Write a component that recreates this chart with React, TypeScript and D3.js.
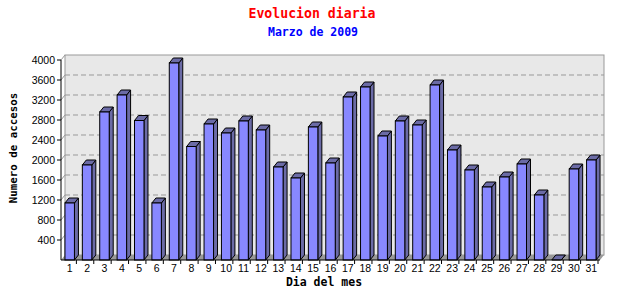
import React from "react";
import * as d3 from "d3";

const days: string[] = Array.from({ length: 31 }, (_, i) => String(i + 1));
const visits: number[] = [
  1140, 1900, 2960, 3300, 2790, 1140, 3940, 2270, 2720, 2540,
  2780, 2600, 1860, 1640, 2660, 1940, 3260, 3460, 2480, 2780,
  2700, 3500, 2200, 1800, 1460, 1660, 1920, 1300, 0, 1820, 2000,
];
const yTickValues: number[] = [400, 800, 1200, 1600, 2000, 2400, 2800, 3200, 3600, 4000];
const title = "Evolucion diaria";
const subtitle = "Marzo de 2009";
const xTitle = "Dia del mes";
const yTitle = "Numero de accesos";

const W = 640, H = 300;
const left = 61, right = 600, bottom = 260, top = 60;
const dx = 4, dy = 5;

export default function App() {
  const x = d3.scaleBand<string>().domain(days).range([left, right]).paddingInner(0.455).paddingOuter(0.2275);
  const y = d3.scaleLinear().domain([0, 4000]).range([bottom, top]);
  const bw = x.bandwidth();
  const step = x.step();
  const mono = "'DejaVu Sans Mono', monospace";
  const sans = "'Liberation Sans', Arial, sans-serif";
  const wallTop = y(4000) - dy;
  const wallRight = right + dx;
  return (
    <svg width={W} height={H} style={{ position: "absolute", left: 0, top: 0, background: "#fff" }}>
      {/* back wall */}
      <rect x={left + dx} y={wallTop} width={wallRight - left - dx} height={bottom - dy - wallTop} fill="#e8e8e8" stroke="#999" strokeWidth={1} />
      {/* grid */}
      {yTickValues.filter(v => v < 4000).map(v => (
        <line key={"g" + v} x1={left + dx} x2={wallRight} y1={y(v) - dy} y2={y(v) - dy} stroke="#999" strokeDasharray="5,3" />
      ))}
      {yTickValues.map(v => (
        <line key={"s" + v} x1={left} x2={left + dx} y1={y(v)} y2={y(v) - dy} stroke="#999" />
      ))}
      {/* floor */}
      <polygon points={`${left},${bottom} ${left + dx},${bottom - dy} ${wallRight},${bottom - dy} ${right},${bottom}`} fill="#999" />
      {/* bars */}
      {days.map((d, i) => {
        const x0 = x(d)!;
        const yv = y(visits[i]);
        return (
          <g key={d} stroke="#000" strokeWidth={1} strokeLinejoin="miter">
            <polygon points={`${x0 + bw},${yv} ${x0 + bw + dx},${yv - dy} ${x0 + bw + dx},${bottom - dy} ${x0 + bw},${bottom}`} fill="#6b6ba6" />
            <polygon points={`${x0},${yv} ${x0 + dx},${yv - dy} ${x0 + bw + dx},${yv - dy} ${x0 + bw},${yv}`} fill="#6b6ba6" />
            {visits[i] > 0 && <rect x={x0} y={yv} width={bw} height={bottom - yv} fill="#8888ff" />}
          </g>
        );
      })}
      {/* axes */}
      <line x1={left} x2={left} y1={bottom} y2={top} stroke="#000" />
      <line x1={left} x2={right} y1={bottom} y2={bottom} stroke="#000" />
      {yTickValues.map(v => (
        <g key={"t" + v}>
          <line x1={left - 4} x2={left} y1={y(v)} y2={y(v)} stroke="#000" />
          <text x={left - 6} y={y(v)} dy="0.35em" textAnchor="end" fontFamily={sans} fontSize={10.5} fill="#000">{v}</text>
        </g>
      ))}
      {days.map((d, i) => {
        const cx = x(d)! + bw / 2;
        return (
          <g key={"x" + d}>
            <line x1={cx + step / 2 - 2} x2={cx + step / 2 - 2} y1={bottom} y2={bottom + 4} stroke="#000" />
            <text x={cx} y={268.5} dy="0.35em" textAnchor="middle" fontFamily={sans} fontSize={10.5} fill="#000">{d}</text>
          </g>
        );
      })}
      {/* titles */}
      <text x={312} y={13} dy="0.35em" textAnchor="middle" fontFamily={mono} fontWeight="bold" fontSize={13.2} fill="#ff0000">{title}</text>
      <text x={313} y={32} dy="0.35em" textAnchor="middle" fontFamily={mono} fontWeight="bold" fontSize={11.5} fill="#0000ff">{subtitle}</text>
      <text x={324} y={281.5} dy="0.35em" textAnchor="middle" fontFamily={mono} fontWeight="bold" fontSize={11.5} fill="#000">{xTitle}</text>
      <text transform={`translate(13,148) rotate(-90)`} dy="0.35em" textAnchor="middle" fontFamily={mono} fontWeight="bold" fontSize={10.8} fill="#000">{yTitle}</text>
    </svg>
  );
}
